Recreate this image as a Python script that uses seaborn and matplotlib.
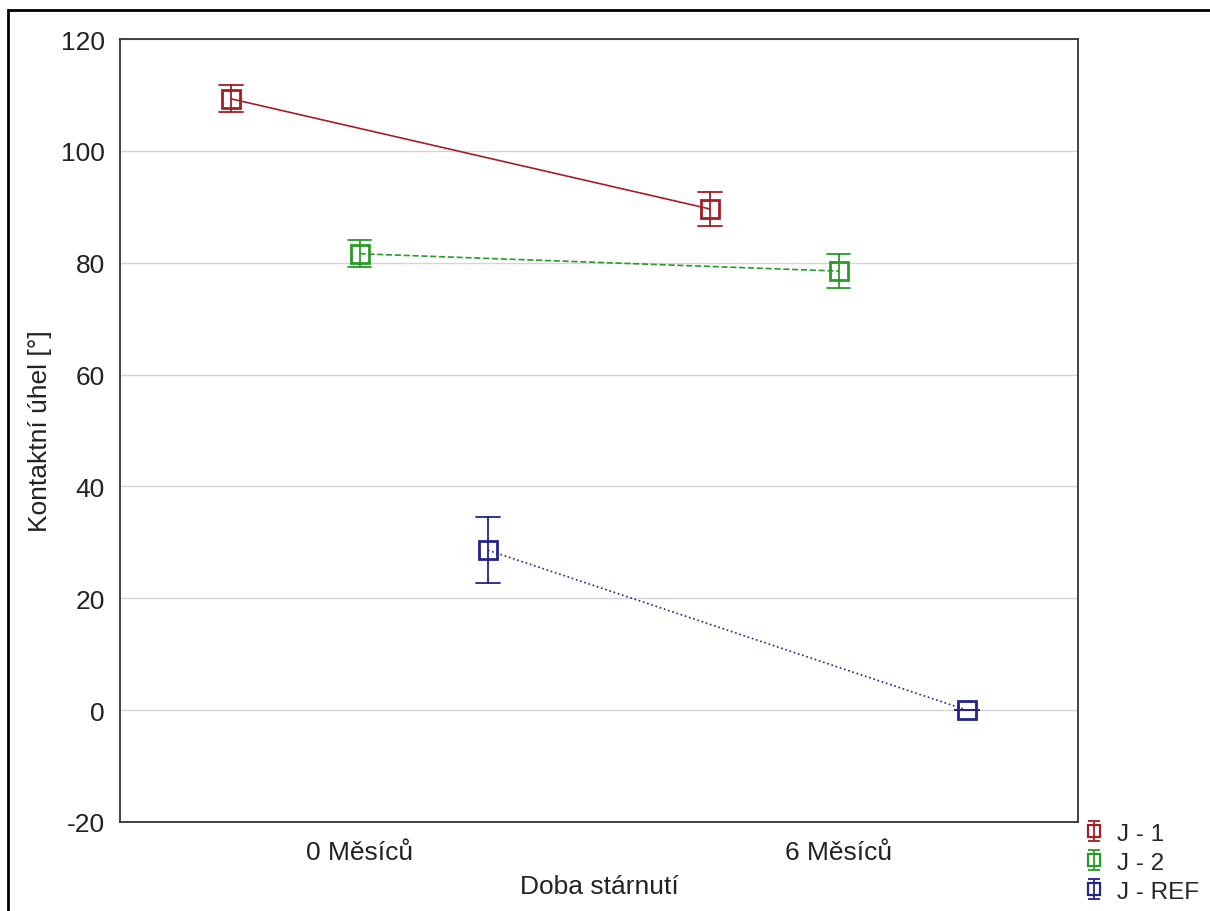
import numpy as np
import pandas as pd
import seaborn as sns
import matplotlib
matplotlib.use("Agg")
import matplotlib.pyplot as plt
from matplotlib.lines import Line2D
from matplotlib.path import Path
from matplotlib.patches import Rectangle
from matplotlib.legend_handler import HandlerTuple

# Contact angle measurements (mean and half-width of the error interval)
periods = ["0 Měsíců", "6 Měsíců"]
samples = ["J - 1", "J - 2", "J - REF"]
means = {
    "J - 1": [109.3, 89.6],
    "J - 2": [81.6, 78.5],
    "J - REF": [28.6, 0.0],
}
errors = {
    "J - 1": [2.4, 3.1],
    "J - 2": [2.4, 3.0],
    "J - REF": [5.9, 0.0],
}
colors = ["#a41e26", "#2a9a2a", "#23248c"]
linestyles = ["-", "--", ":"]

# Expand each mean into its interval endpoints so the point shows the mean
# and the min/max interval shows the error bar
rows = []
for s in samples:
    for p, m, e in zip(periods, means[s], errors[s]):
        rows.append({"period": p, "sample": s, "value": m - e})
        rows.append({"period": p, "sample": s, "value": m + e})
df = pd.DataFrame(rows)

sns.set_theme(style="white")
plt.rcParams["font.family"] = ["Liberation Sans", "DejaVu Sans"]
plt.rcParams["axes.unicode_minus"] = False

FS = 19

fig = plt.figure(figsize=(12.1, 9.12), dpi=100)
ax = fig.add_axes([120 / 1210, 1 - 823 / 912, (1078 - 120) / 1210, (823 - 40) / 912])

sns.pointplot(
    data=df, x="period", y="value", hue="sample", order=periods,
    hue_order=samples, palette=colors, estimator="mean",
    errorbar=("pi", 100), dodge=0.536, markers="s", linestyles=linestyles,
    capsize=0.05, err_kws={"linewidth": 1.3}, markersize=12.5,
    markeredgewidth=2.0, linewidth=1.2, ax=ax, legend=False,
)
for ln in ax.lines:
    ln.set_markerfacecolor("none")
    ln.set_zorder(3)

ax.set_xlim(-0.5, 1.5)
ax.set_ylim(-20, 120)
ax.set_yticks(np.arange(-20, 121, 20))
ax.yaxis.grid(True, color="#d4d4d4", linewidth=1.0)
ax.set_axisbelow(True)
ax.tick_params(axis="both", length=0, labelsize=FS, colors="#222222")
ax.tick_params(axis="y", pad=11)
ax.tick_params(axis="x", pad=13)
for sp in ax.spines.values():
    sp.set_color("#333333")
    sp.set_linewidth(1.3)

ax.set_xlabel("Doba stárnutí", fontsize=FS, color="#222222", labelpad=7)
ax.set_ylabel("Kontaktní úhel [°]", fontsize=FS, color="#222222", labelpad=6)

# Legend glyphs: error bar with a hollow square marker
ibar = Path(
    [(-0.6, 1), (0.6, 1), (0, 1), (0, -1), (-0.6, -1), (0.6, -1)],
    [Path.MOVETO, Path.LINETO, Path.MOVETO, Path.LINETO, Path.MOVETO, Path.LINETO],
)
handles = []
for c in colors:
    bar = Line2D([], [], linestyle="none", marker=ibar, markersize=15,
                 markeredgewidth=1.3, color=c, markerfacecolor="none")
    sq = Line2D([], [], linestyle="none", marker="s", markersize=8,
                markeredgewidth=1.6, color=c, markerfacecolor="none")
    handles.append((bar, sq))
fig.legend(
    handles, samples, handler_map={tuple: HandlerTuple(ndivide=1)},
    loc="upper left", bbox_to_anchor=(1077 / 1210, 1 - 819 / 912),
    frameon=False, fontsize=17.5, handlelength=1.0, handletextpad=0.45,
    labelspacing=0.28, borderaxespad=0, borderpad=0.2,
)

# Outer frame around the figure
fig.patches.append(Rectangle((8 / 1210, -0.05), 1.1, 1.05 - 11 / 912,
                             transform=fig.transFigure, fill=False,
                             edgecolor="black", linewidth=2.0))

fig.savefig("out.png", dpi=100)
